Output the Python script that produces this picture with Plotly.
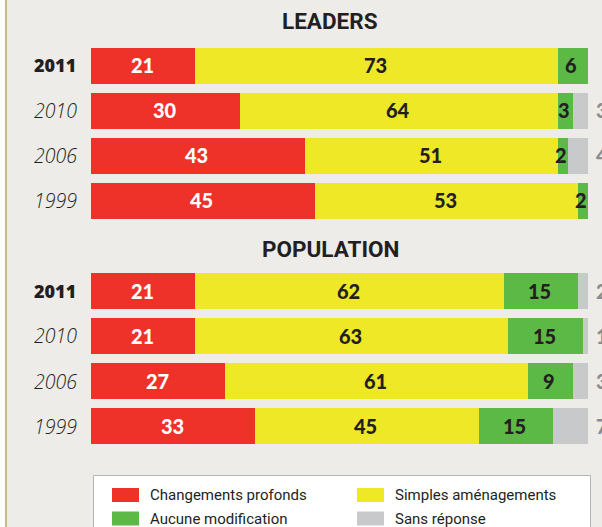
import plotly.graph_objects as go

# Survey answers (%) for each year, leaders vs general population
years = ["2011", "2010", "2006", "1999"]
series_names = ["Changements profonds", "Simples aménagements", "Aucune modification", "Sans réponse"]
series_colors = ["#ee3129", "#eee826", "#5cb946", "#c8c9cb"]
label_colors = ["#ffffff", "#231f20", "#231f20", "#8c8c8c"]

leaders_profonds = [21, 30, 43, 45]
leaders_amenagements = [73, 64, 51, 53]
leaders_aucune = [6, 3, 2, 2]
leaders_sans = [0, 3, 4, 0]

population_profonds = [21, 21, 27, 33]
population_amenagements = [62, 63, 61, 45]
population_aucune = [15, 15, 9, 15]
population_sans = [2, 1, 3, 7]

panels = [
    ("LEADERS", [leaders_profonds, leaders_amenagements, leaders_aucune, leaders_sans]),
    ("POPULATION", [population_profonds, population_amenagements, population_aucune, population_sans]),
]

W, H = 602, 527
BG = "#edece8"
NUM_FONT = "Lato"
LEGEND_FONT = "Roboto"

fig = go.Figure()

# vertical domains of the two panels (pixel rows -> paper fraction)
panel_px = [(42.5, 223.0), (268.0, 449.0)]
title_px = [20.5, 249.0]
rows = list(range(len(years)))


def px_x(px):
    return (px - 91) / 497


def px_y(px):
    return 1 - px / H


annotations = []
for p, (title, values) in enumerate(panels):
    yname = "y" if p == 0 else "y2"
    for s, name in enumerate(series_names):
        fig.add_trace(go.Bar(
            x=values[s], y=rows, orientation="h", name=name,
            marker=dict(color=series_colors[s], line=dict(width=0)),
            width=0.8, yaxis=yname, xaxis="x", showlegend=False,
            customdata=years, hovertemplate="%{customdata}: %{x}<extra>" + name + "</extra>",
        ))
    # value labels
    for i, yr in enumerate(years):
        start = 0
        for s in range(4):
            v = values[s][i]
            if v > 0:
                if s < 3:
                    annotations.append(dict(
                        x=start + v / 2, y=i, xref="x", yref=yname,
                        text=str(v), showarrow=False,
                        font=dict(family=NUM_FONT, size=20, color=label_colors[s], weight=900),
                        xshift=-1 if v >= 10 else -2,
                    ))
                else:
                    annotations.append(dict(
                        x=100, y=i, xref="x", yref=yname,
                        text=str(v), showarrow=False, xanchor="left", xshift=6,
                        font=dict(family=NUM_FONT, size=20, color=label_colors[s], weight=900),
                    ))
            start += v
        # year labels
        bold = (yr == "2011")
        annotations.append(dict(
            x=px_x(32), y=i, xref="paper", yref=yname,
            text=yr, showarrow=False, xanchor="left",
            font=dict(family="Open Sans", size=18 if bold else 19.5, color="#231f20",
                      weight=800 if bold else 300,
                      style="normal" if bold else "italic"),
        ))
    annotations.append(dict(
        x=px_x(330), y=px_y(title_px[p]), xref="paper", yref="paper",
        text=title, showarrow=False, xanchor="center", yanchor="middle",
        font=dict(family="Roboto", size=22.5, color="#231f20", weight=700),
    ))

# legend drawn as a white box with swatches
shapes = [
    dict(type="rect", xref="paper", yref="paper",
         x0=px_x(6), x1=px_x(W), y0=0, y1=1,
         fillcolor=BG, line=dict(width=0), layer="below"),
    dict(type="line", xref="paper", yref="paper",
         x0=px_x(6), x1=px_x(6), y0=0, y1=1,
         line=dict(color="#c8bb8a", width=2), layer="below"),
    dict(type="rect", xref="paper", yref="paper",
         x0=px_x(93.5), x1=px_x(590.5), y0=-0.1, y1=px_y(475.5),
         fillcolor="#ffffff", line=dict(color="#b4b4b4", width=1), layer="above"),
]
legend_pos = [(112, 495), (357, 495), (112, 518.5), (357, 518.5)]
for s, name in enumerate(series_names):
    lx, ly = legend_pos[s]
    shapes.append(dict(
        type="rect", xref="paper", yref="paper",
        x0=px_x(lx), x1=px_x(lx + 27),
        y0=px_y(ly + 7), y1=px_y(ly - 7),
        fillcolor=series_colors[s], line=dict(width=0), layer="above",
    ))
    annotations.append(dict(
        x=px_x(lx + 36), y=px_y(ly), xref="paper", yref="paper",
        text=name, showarrow=False, xanchor="left", yanchor="middle",
        font=dict(family=LEGEND_FONT, size=15, color="#231f20"),
    ))

fig.update_layout(
    width=W, height=H,
    margin=dict(l=91, r=W - 588, t=0, b=0),
    paper_bgcolor="#ffffff", plot_bgcolor="rgba(0,0,0,0)",
    barmode="stack", bargap=0,
    xaxis=dict(range=[0, 100], visible=False, fixedrange=True),
    yaxis=dict(domain=[px_y(panel_px[0][1]), px_y(panel_px[0][0])],
               range=[3.5, -0.5], visible=False, anchor="x"),
    yaxis2=dict(domain=[px_y(panel_px[1][1]), px_y(panel_px[1][0])],
                range=[3.5, -0.5], visible=False, anchor="x"),
    annotations=annotations, shapes=shapes,
    showlegend=False,
)

fig.write_html("out.html")
